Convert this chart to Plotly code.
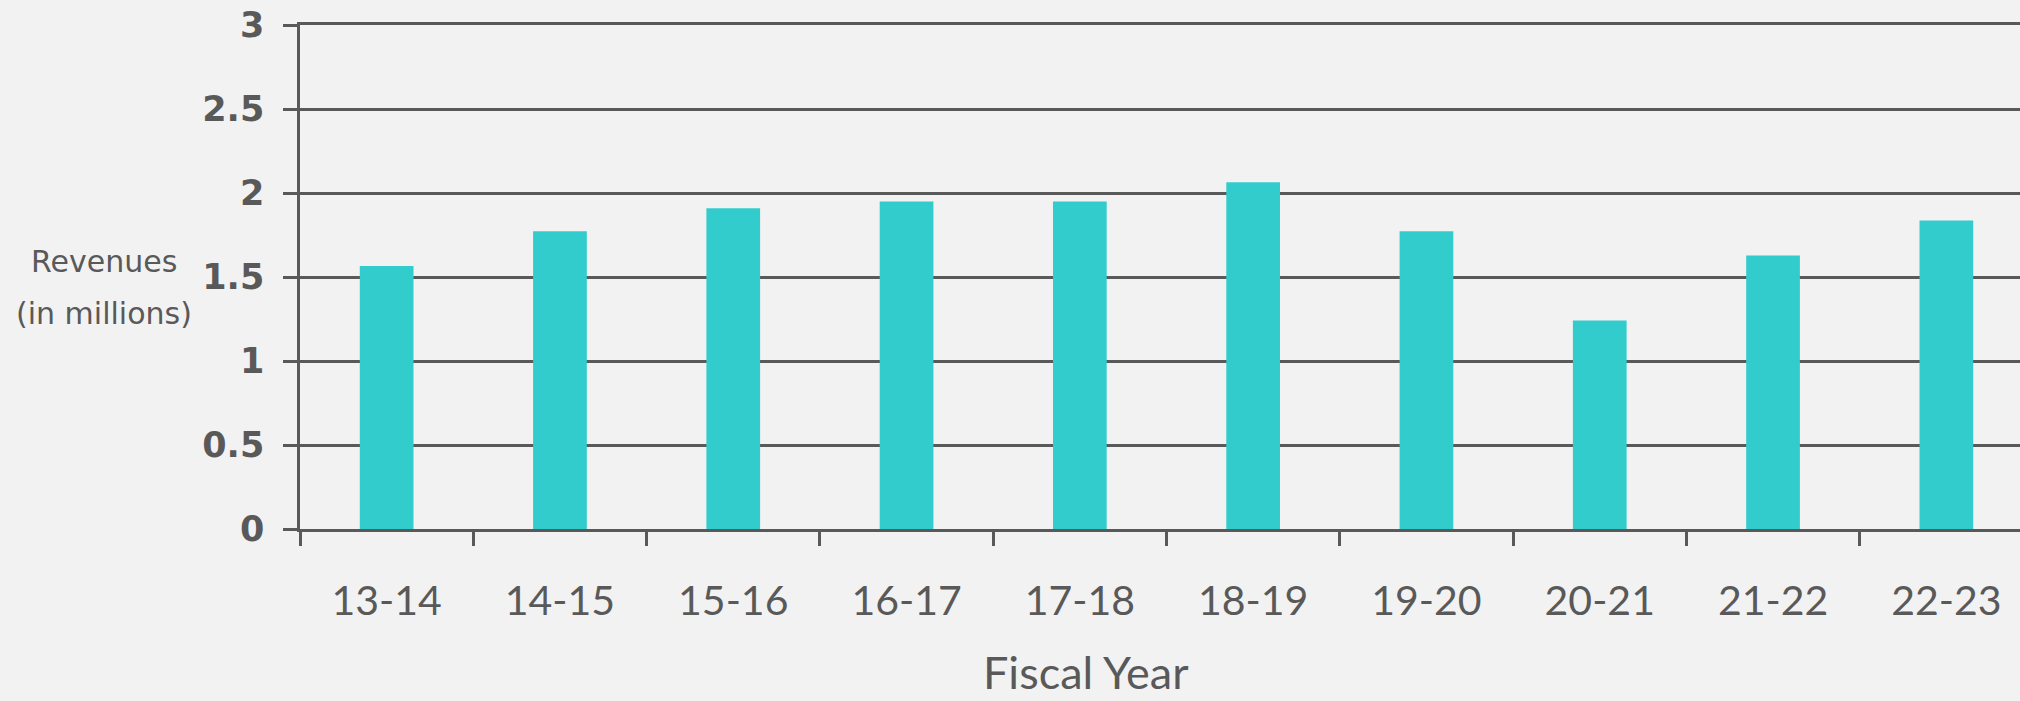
import plotly.graph_objects as go

years = ["13-14", "14-15", "15-16", "16-17", "17-18", "18-19", "19-20", "20-21", "21-22", "22-23"]
revenues = [1.565, 1.772, 1.909, 1.949, 1.949, 2.064, 1.772, 1.241, 1.628, 1.836]
y_ticks = [0, 0.5, 1, 1.5, 2, 2.5, 3]
y_tick_labels = ["0", "0.5", "1", "1.5", "2", "2.5", "3"]

GRAY = "#595959"
W, H = 2020, 701
L, R, T, B = 300, 0, 25, 172

fig = go.Figure()
fig.add_trace(go.Bar(x=years, y=revenues, marker_color="#33CCCC", width=0.31,
                     marker_line_width=0))

fig.update_layout(
    width=W, height=H,
    margin=dict(l=L, r=R, t=T, b=B, pad=0),
    paper_bgcolor="#F2F2F2", plot_bgcolor="#F2F2F2",
    showlegend=False,
    xaxis=dict(
        type="category", range=[-0.5, 9.425],
        tickson="boundaries", ticks="outside", ticklen=14, tickwidth=2.5, tickcolor=GRAY,
        showgrid=False, showline=True, linecolor=GRAY, linewidth=2.5, zeroline=False,
        mirror=True,
        tickfont=dict(family="Lato", size=41, color=GRAY),
        ticklabelstandoff=34,
    ),
    yaxis=dict(
        range=[0, 3], tickmode="array", tickvals=y_ticks, ticktext=y_tick_labels,
        ticks="outside", ticklen=14, tickwidth=2.5, tickcolor=GRAY,
        showgrid=True, gridcolor=GRAY, gridwidth=2.5,
        showline=True, linecolor=GRAY, linewidth=2.5, zeroline=False,
        tickfont=dict(family="DejaVu Sans", size=35, color=GRAY, weight="bold"),
        ticklabelstandoff=12,
    ),
)

fig.add_annotation(text="Revenues", xref="paper", yref="paper",
                   x=(104 - L) / (W - L - R), y=1 - (261 - T) / (H - T - B),
                   showarrow=False, xanchor="center", yanchor="middle",
                   font=dict(family="DejaVu Sans", size=30, color=GRAY))
fig.add_annotation(text="(in millions)", xref="paper", yref="paper",
                   x=(104 - L) / (W - L - R), y=1 - (313 - T) / (H - T - B),
                   showarrow=False, xanchor="center", yanchor="middle",
                   font=dict(family="DejaVu Sans", size=30, color=GRAY))
fig.add_annotation(text="Fiscal Year", xref="paper", yref="paper",
                   x=(1086 - L) / (W - L - R), y=1 - (672 - T) / (H - T - B),
                   showarrow=False, xanchor="center", yanchor="middle",
                   font=dict(family="Lato", size=45, color=GRAY))

fig.write_html("out.html")
